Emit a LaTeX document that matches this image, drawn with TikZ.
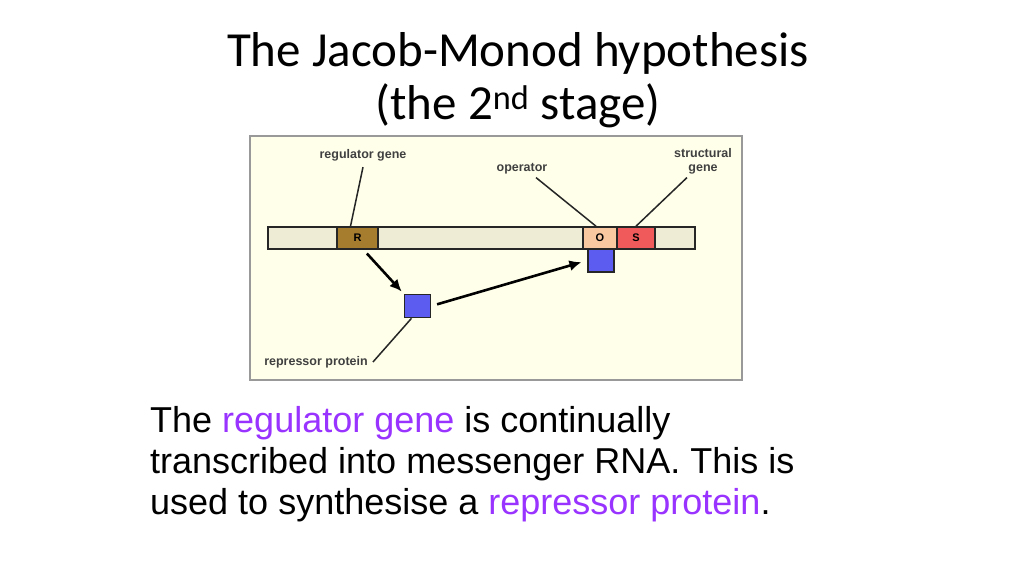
\documentclass[tikz,border=0pt]{standalone}
\usepackage{fontspec}
\setmainfont{Liberation Sans}
\newfontfamily\titlefont{Carlito}
\usetikzlibrary{arrows.meta,positioning,calc}
\definecolor{panelbg}{RGB}{255,255,234}
\definecolor{dnabg}{RGB}{238,236,212}
\definecolor{regbrown}{RGB}{166,124,46}
\definecolor{oporange}{RGB}{250,200,160}
\definecolor{strred}{RGB}{240,90,90}
\definecolor{repblue}{RGB}{92,92,240}
\definecolor{hlpurple}{RGB}{153,51,255}

\begin{document}
\begin{tikzpicture}[x=1pt, y=-1pt, >={Latex[length=12pt,width=11pt]},
    gene/.style={draw=black!85, line width=1.6pt, minimum height=22pt, inner sep=0pt, font=\fontsize{11}{12}\selectfont\bfseries},
    repbox/.style={draw=black!85, line width=1.6pt, fill=repblue, minimum width=26pt, minimum height=23pt, inner sep=0pt},
    lbl/.style={font=\fontsize{12.5}{14}\selectfont\bfseries, text=black!75, inner sep=0pt, align=center},
    leader/.style={line width=1.5pt, black!85}]
    \useasboundingbox (0,0) rectangle (1024,576);
    \node[anchor=base, font=\titlefont\fontsize{49}{52}\selectfont] (title) at (518,66) {The Jacob-Monod hypothesis};
    \node[anchor=base, font=\titlefont\fontsize{49}{52}\selectfont] (stage) at (518,119) {(the 2\textsuperscript{nd} stage)};
    \draw[fill=panelbg, draw=black!40, line width=1.5pt] (250,136) rectangle (742,380);
    % chromosome and genes
    \node[gene, fill=dnabg, minimum width=427pt] (dna) at (481.5,238) {};
    \node[gene, fill=regbrown, minimum width=41pt] (reg) at (357.5,238) {R};
    \node[gene, fill=oporange, minimum width=34pt] (op) at (600,238) {O};
    \node[gene, fill=strred, minimum width=38pt] (str) at (636,238) {S};
    % repressor protein
    \node[repbox] (bound) at (601,260.5) {};
    \node[repbox] (free) at (417.5,306) {};
    \draw[->, line width=2.6pt, shorten <=5pt, shorten >=3pt] ([xshift=6pt]reg.south) -- (free.north west);
    \draw[->, line width=2.6pt, shorten <=6pt, shorten >=6pt] (free.east) -- (bound.west);
    % labels
    \node[lbl] (reglbl) at (363,155) {regulator gene};
    \node[lbl] (oplbl) at (522,169) {operator};
    \node[lbl] (strlbl) at (703,161.5) {structural\\gene};
    \node[lbl] (replbl) at (316,362) {repressor protein};
    \draw[leader] ([yshift=-6pt]reglbl.south) -- ([xshift=-7pt]reg.north);
    \draw[leader] ([xshift=14pt,yshift=-3pt]oplbl.south) -- ([xshift=-4pt]op.north);
    \draw[leader] ([xshift=-16pt,yshift=-3pt]strlbl.south) -- (str.north);
    \draw[leader] ([xshift=5pt]replbl.east) -- ([xshift=-6pt]free.south);
    % explanation
    \node[anchor=north west, align=left, inner sep=0pt, font=\fontsize{36}{41}\selectfont] (expl) at (150,406)
      {The \textcolor{hlpurple}{regulator gene} is continually\\
       transcribed into messenger RNA. This is\\
       used to synthesise a \textcolor{hlpurple}{repressor protein}.};
\end{tikzpicture}
\end{document}
